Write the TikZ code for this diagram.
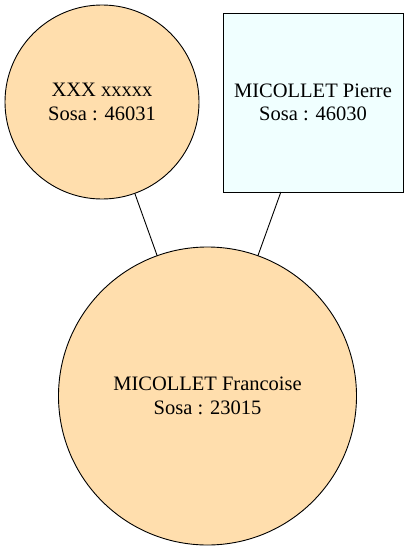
\documentclass[tikz,border=0pt]{standalone}
\usepackage{fontspec}
\setmainfont{Liberation Serif}
\usetikzlibrary{positioning}
\definecolor{navajo}{HTML}{FFDEAD}
\definecolor{azurelight}{HTML}{F0FFFF}

\begin{document}
\begin{tikzpicture}[x=1pt,y=-1pt,align=center,line width=0.9pt,
	nametext/.style={font=\fontsize{20.5}{23.5}\selectfont},
	woman/.style={draw,circle,fill=navajo,inner sep=0pt,outer sep=0pt,nametext},
	man/.style={draw,rectangle,fill=azurelight,inner sep=0pt,outer sep=0pt,minimum width=180pt,minimum height=179pt,nametext}]
	\useasboundingbox (0,0) rectangle (408,551);
	\draw (102,102) node[woman,minimum size=194pt](mother){XXX xxxxx\\Sosa : 46031};
	\draw (313,102.5) node[man](father){MICOLLET Pierre\\Sosa : 46030};
	\draw (207.5,396) node[woman,minimum size=298pt](child){MICOLLET Francoise\\Sosa : 23015};
	\draw (mother) -- (child);
	\draw (father) -- (child);
\end{tikzpicture}
\end{document}
